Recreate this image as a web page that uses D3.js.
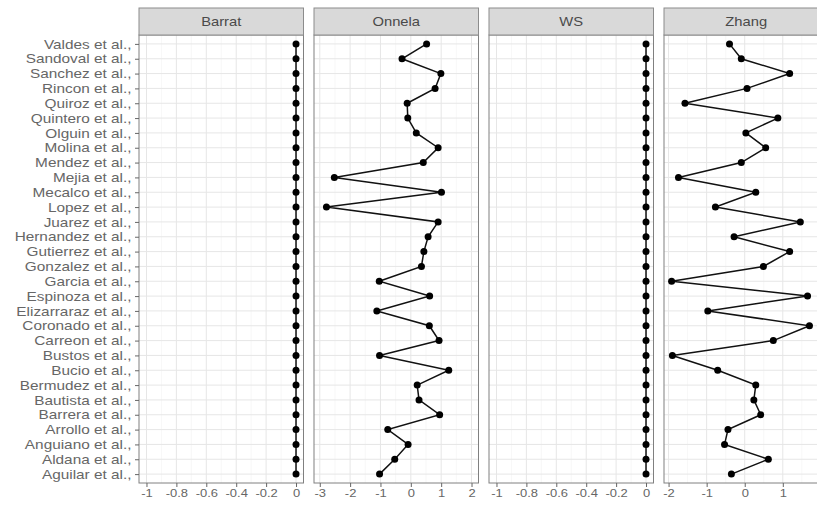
<!DOCTYPE html>
<html>
<head>
<meta charset="utf-8">
<script src="https://cdn.jsdelivr.net/npm/d3@7"></script>
<style>
  body { margin: 0; background: #fff; }
  svg { display: block; font-family: "Liberation Sans", Arial, sans-serif; }
</style>
</head>
<body>
<svg id="chart" width="817" height="505"></svg>
<script>
// categories, bottom to top (factor order)
var authors = ["Aguilar", "Aldana", "Anguiano", "Arrollo", "Barrera", "Bautista", "Bermudez",
  "Bucio", "Bustos", "Carreon", "Coronado", "Elizarraraz", "Espinoza", "Garcia", "Gonzalez",
  "Gutierrez", "Hernandez", "Juarez", "Lopez", "Mecalco", "Mejia", "Mendez", "Molina",
  "Olguin", "Quintero", "Quiroz", "Rincon", "Sanchez", "Sandoval", "Valdes"];

var methods = ["Barrat", "Onnela", "WS", "Zhang"];

var barrat = [0, 0, 0, 0, 0, 0, 0, 0, 0, 0, 0, 0, 0, 0, 0,
              0, 0, 0, 0, 0, 0, 0, 0, 0, 0, 0, 0, 0, 0, 0];
var onnela = [-1.03, -0.53, -0.09, -0.76, 0.95, 0.27, 0.21, 1.25, -1.03, 0.93, 0.61, -1.12, 0.62, -1.04, 0.35,
              0.43, 0.57, 0.90, -2.78, 1.01, -2.52, 0.41, 0.90, 0.18, -0.10, -0.12, 0.80, 0.99, -0.29, 0.52];
var ws     = [0, 0, 0, 0, 0, 0, 0, 0, 0, 0, 0, 0, 0, 0, 0,
              0, 0, 0, 0, 0, 0, 0, 0, 0, 0, 0, 0, 0, 0, 0];
var zhang  = [-0.35, 0.62, -0.53, -0.44, 0.42, 0.24, 0.29, -0.71, -1.90, 0.75, 1.70, -0.97, 1.65, -1.92, 0.49,
              1.18, -0.28, 1.46, -0.77, 0.29, -1.74, -0.09, 0.55, 0.03, 0.87, -1.57, 0.06, 1.18, -0.09, -0.40];

// x limits and tick labels per facet (free x scales)
var limits = [[-1.05, 0.05], [-3.19, 2.23], [-1.05, 0.05], [-2.12, 2.2]];
var ticksBarrat = [-1, -0.8, -0.6, -0.4, -0.2, 0];
var ticksOnnela = [-3, -2, -1, 0, 1, 2];
var ticksWS     = [-1, -0.8, -0.6, -0.4, -0.2, 0];
var ticksZhang  = [-2, -1, 0, 1, 2];

var series = [barrat, onnela, ws, zhang];
var tickSets = [ticksBarrat, ticksOnnela, ticksWS, ticksZhang];

var svg = d3.select("#chart"),
    panelLeft = 139,
    panelW = 164.5,
    panelStep = 175,
    stripTop = 8,
    panelTop = 35,
    panelBottom = 483,
    stretch = 1.2;

var y = d3.scalePoint()
    .domain(authors)
    .range([panelBottom, panelTop])
    .padding(0.6);

function fmt(d) { return String(d); }

methods.forEach(function(m, i) {
  var x0 = panelLeft + i * panelStep;
  var x = d3.scaleLinear().domain(limits[i]).range([x0, x0 + panelW]);
  var ticks = tickSets[i];
  var minor = d3.pairs(ticks).map(function(p) { return (p[0] + p[1]) / 2; });
  var g = svg.append("g").attr("class", "panel");

  g.append("rect")
    .attr("x", x0).attr("y", panelTop)
    .attr("width", panelW).attr("height", panelBottom - panelTop)
    .attr("fill", "#fff");

  g.selectAll(".minor").data(minor).enter().append("line")
    .attr("x1", function(d) { return x(d); }).attr("x2", function(d) { return x(d); })
    .attr("y1", panelTop).attr("y2", panelBottom)
    .attr("stroke", "#f2f2f2").attr("stroke-width", 0.6);

  g.selectAll(".vmajor").data(ticks).enter().append("line")
    .attr("x1", function(d) { return x(d); }).attr("x2", function(d) { return x(d); })
    .attr("y1", panelTop).attr("y2", panelBottom)
    .attr("stroke", "#e6e6e6").attr("stroke-width", 1);

  g.selectAll(".hmajor").data(authors).enter().append("line")
    .attr("x1", x0).attr("x2", x0 + panelW)
    .attr("y1", function(d) { return y(d); }).attr("y2", function(d) { return y(d); })
    .attr("stroke", "#e6e6e6").attr("stroke-width", 1);

  var pts = authors.map(function(a, j) { return { name: a, v: series[i][j] }; });

  var line = d3.line()
    .x(function(d) { return x(d.v); })
    .y(function(d) { return y(d.name); });

  g.append("path")
    .datum(pts)
    .attr("d", line)
    .attr("fill", "none")
    .attr("stroke", "#111")
    .attr("stroke-width", 1.5);

  g.selectAll(".pt").data(pts).enter().append("circle")
    .attr("cx", function(d) { return x(d.v); })
    .attr("cy", function(d) { return y(d.name); })
    .attr("r", 3.5)
    .attr("fill", "#000");

  g.append("rect")
    .attr("x", x0).attr("y", panelTop)
    .attr("width", panelW).attr("height", panelBottom - panelTop)
    .attr("fill", "none").attr("stroke", "#808080").attr("stroke-width", 1);

  // strip
  g.append("rect")
    .attr("x", x0).attr("y", stripTop)
    .attr("width", panelW).attr("height", panelTop - stripTop)
    .attr("fill", "#d9d9d9").attr("stroke", "#8c8c8c").attr("stroke-width", 1);
  g.append("text")
    .attr("transform", "translate(" + (x0 + panelW / 2) + "," + ((stripTop + panelTop) / 2 + 4.5) + ") scale(" + stretch + ",1)")
    .attr("text-anchor", "middle")
    .attr("font-size", 12.3)
    .attr("fill", "#4a4a4a")
    .text(m);

  // x axis
  var ax = svg.append("g")
    .attr("transform", "translate(0," + panelBottom + ")")
    .call(d3.axisBottom(x).tickValues(ticks).tickSize(4).tickPadding(2).tickFormat(fmt));
  ax.select(".domain").remove();
  ax.selectAll(".tick line").attr("stroke", "#666");
  ax.selectAll(".tick text")
    .attr("font-size", 10.8)
    .attr("fill", "#666")
    .attr("transform", "scale(" + stretch + ",1)");
});

// y axis on the first facet
var ay = svg.append("g")
  .attr("transform", "translate(" + panelLeft + ",0)")
  .call(d3.axisLeft(y).tickSize(4).tickFormat(function(d) { return d + " et al.,"; }));
ay.select(".domain").remove();
ay.selectAll(".tick line").attr("stroke", "#666");
ay.selectAll(".tick text")
  .attr("x", -7.5 / stretch)
  .attr("font-size", 12.8)
  .attr("fill", "#666")
  .attr("transform", "scale(" + stretch + ",1)");
</script>
</body>
</html>
